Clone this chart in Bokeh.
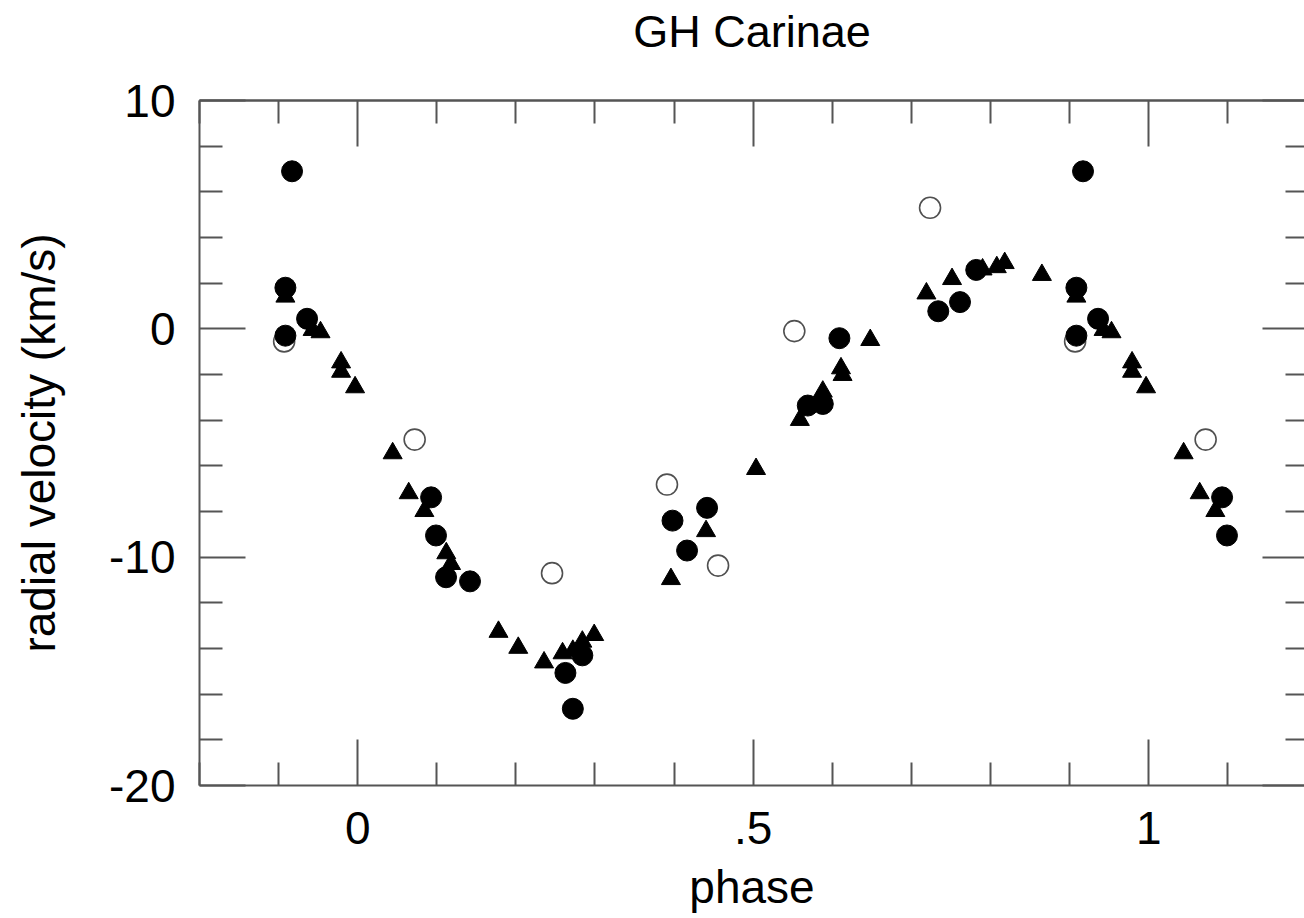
from bokeh.plotting import figure
from bokeh.models import FixedTicker, LinearAxis, Range1d
from bokeh.embed import file_html
from bokeh.resources import INLINE

# ---- data (phase in [0,1), radial velocity km/s) ----
filled_phase = [0.917, 0.9086, 0.9086, 0.936, 0.0928, 0.099, 0.1117, 0.142,
                0.2626, 0.272, 0.284, 0.398, 0.4417, 0.4164, 0.569, 0.588,
                0.609, 0.734, 0.7615, 0.782]
filled_rv = [6.9, 1.8, -0.3, 0.44, -7.38, -9.05, -10.88, -11.06,
             -15.07, -16.64, -14.3, -8.4, -7.84, -9.71, -3.36, -3.29,
             -0.41, 0.77, 1.17, 2.58]

open_phase = [0.907, 0.072, 0.2457, 0.391, 0.4556, 0.552, 0.7236]
open_rv = [-0.55, -4.85, -10.7, -6.82, -10.37, -0.1, 5.3]

tri_phase = [0.9086, 0.943, 0.953, 0.979, 0.979, 0.9967, 0.0442, 0.0645,
             0.0843, 0.112, 0.118, 0.178, 0.203, 0.2356, 0.259, 0.272,
             0.284, 0.299, 0.396, 0.4404, 0.5036, 0.559, 0.588, 0.611,
             0.613, 0.648, 0.719, 0.7514, 0.79, 0.808, 0.818, 0.865]
tri_rv = [1.41, -0.05, -0.15, -1.47, -1.88, -2.56, -5.45, -7.2,
          -7.98, -9.83, -10.3, -13.27, -13.97, -14.61, -14.21, -14.1,
          -13.7, -13.41, -10.96, -8.86, -6.14, -3.99, -2.75, -1.73,
          -2.02, -0.49, 1.55, 2.18, 2.6, 2.7, 2.88, 2.36]

x_major = [0, 0.5, 1]
x_major_labels = ["0", ".5", "1"]
x_minor = [-0.2, -0.1, 0.1, 0.2, 0.3, 0.4, 0.6, 0.7, 0.8, 0.9, 1.1, 1.2]
y_major = [-20, -10, 0, 10]
y_major_labels = ["-20", "-10", "0", "10"]
y_minor = [-18, -16, -14, -12, -8, -6, -4, -2, 2, 4, 6, 8]

TITLE = "GH Carinae"


def fold(ph, rv):
    """Repeat points past the phase edges, as in the phase diagram."""
    xs, ys = [], []
    for a, b in zip(ph, rv):
        xs.append(a); ys.append(b)
        if a > 0.9:
            xs.append(a - 1); ys.append(b)
        if a < 0.1:
            xs.append(a + 1); ys.append(b)
    return xs, ys


FONT = "Liberation Sans"
AX = "#555555"
X0, X1 = -0.2, 1.197

p = figure(width=1304, height=918,
           x_range=Range1d(X0, X1), y_range=Range1d(-20, 10),
           output_backend="svg", toolbar_location=None,
           x_axis_label="phase",
           y_axis_label="radial velocity (km/s)",
           min_border_left=199, min_border_right=0,
           min_border_top=100, min_border_bottom=133)

p.background_fill_color = "white"
p.border_fill_color = "white"
p.outline_line_color = None
p.grid.visible = False


def style_lines(ax):
    ax.major_tick_out = 0
    ax.minor_tick_out = 0
    ax.axis_line_color = AX
    ax.axis_line_width = 2
    ax.major_tick_line_color = AX
    ax.major_tick_line_width = 2
    ax.minor_tick_line_color = AX
    ax.minor_tick_line_width = 2


def style_main(ax):
    style_lines(ax)
    ax.major_tick_in = 46
    ax.minor_tick_in = 23
    ax.major_label_text_font = FONT
    ax.major_label_text_font_size = "46px"
    ax.major_label_text_color = "black"
    ax.axis_label_text_font = FONT
    ax.axis_label_text_font_size = "46px"
    ax.axis_label_text_font_style = "normal"
    ax.axis_label_text_color = "black"


xa = p.xaxis[0]
xa.ticker = FixedTicker(ticks=x_major, minor_ticks=x_minor)
style_main(xa)
xa.major_label_overrides = dict(zip(x_major, x_major_labels))
xa.major_label_standoff = 26
xa.axis_label_standoff = 14

ya = p.yaxis[0]
ya.ticker = FixedTicker(ticks=y_major, minor_ticks=y_minor)
style_main(ya)
ya.major_label_overrides = dict(zip(y_major, y_major_labels))
ya.major_label_standoff = 24
ya.axis_label_standoff = 41


def bare_axis(minor, length, line=True):
    # unlabeled axis: only "minor" ticks are drawn, so no tick labels exist
    ax = LinearAxis(ticker=FixedTicker(ticks=[], minor_ticks=minor))
    style_lines(ax)
    ax.major_tick_in = 0
    ax.minor_tick_in = length
    ax.major_label_standoff = 0
    if not line:
        ax.axis_line_color = None
    return ax


p.add_layout(bare_axis(x_minor, 23), "above")

# top axis carrying the long ticks; its axis label is the chart title
top_major = bare_axis(x_major, 46)
top_major.axis_label = TITLE
top_major.axis_label_text_font = FONT
top_major.axis_label_text_font_size = "45px"
top_major.axis_label_text_font_style = "normal"
top_major.axis_label_text_color = "black"
top_major.axis_label_standoff = 44
p.add_layout(top_major, "above")

p.add_layout(bare_axis(y_minor, 19, line=False), "right")
p.add_layout(bare_axis(y_major, 42, line=False), "right")

ox, oy = fold(open_phase, open_rv)
tx, ty = fold(tri_phase, tri_rv)
fx, fy = fold(filled_phase, filled_rv)

p.scatter(ox, oy, marker="circle", size=21, fill_color="white",
          line_color="#505050", line_width=1.6)
p.scatter(tx, ty, marker="triangle", size=19, fill_color="black",
          line_color="black", line_width=1)
p.scatter(fx, fy, marker="circle", size=21, fill_color="black",
          line_color="black", line_width=1)

open("out.html", "w").write(file_html(p, INLINE))
